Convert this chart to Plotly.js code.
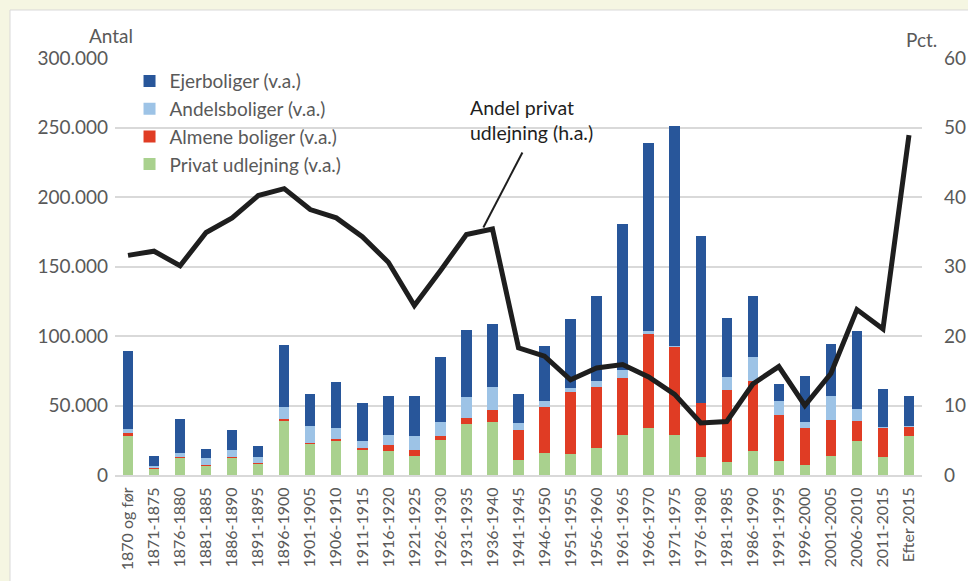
<!DOCTYPE html>
<html>
<head>
<meta charset="utf-8">
<script src="https://cdn.plot.ly/plotly-3.0.1.min.js"></script>
<style>
html,body{margin:0;padding:0;background:#f5f6e2;}
#chart{width:968px;height:581px;}
</style>
</head>
<body>
<div id="chart"></div>
<script>
// Categories (construction periods)
const categories = ["1870 og før","1871-1875","1876-1880","1881-1885","1886-1890","1891-1895","1896-1900","1901-1905","1906-1910","1911-1915","1916-1920","1921-1925","1926-1930","1931-1935","1936-1940","1941-1945","1946-1950","1951-1955","1956-1960","1961-1965","1966-1970","1971-1975","1976-1980","1981-1985","1986-1990","1991-1995","1996-2000","2001-2005","2006-2010","2011-2015","Efter 2015"];

// Number of dwellings (left axis)
const privatUdlejning = [28300,4600,12200,6500,12200,8200,38800,22300,24700,17800,17600,14000,25200,36500,38400,10800,15800,15100,19700,29100,33600,28600,12900,9400,17300,10100,7200,14000,24500,12700,27800];
const almeneBoliger   = [1700,200,500,500,1000,700,1800,700,1200,1400,4000,4000,2900,4300,8400,21600,33100,44400,43600,41000,67800,63500,38900,52000,50100,32800,26600,25600,14100,21100,6500];
const andelsboliger   = [2900,1500,2900,5000,4800,4300,8600,12000,7900,5000,7200,9800,10000,15100,16300,5300,4100,3100,4100,5700,2200,500,300,9100,17300,10300,4600,17000,8900,500,700];
const ejerboliger     = [56100,7100,25000,6500,14400,7700,44600,23100,32900,27900,28300,28800,47100,48700,45300,20900,39800,49400,61600,105100,135000,158400,120100,42700,44100,12100,32800,37600,56100,27400,21600];

// Share of private rental (right axis, pct.)
const andelPrivat = [31.6,32.2,30.1,34.9,37.0,40.2,41.2,38.2,37.0,34.3,30.6,24.4,29.4,34.6,35.4,18.3,17.1,13.7,15.4,15.9,14.1,11.6,7.5,7.7,13.1,15.6,10.0,14.6,23.8,21.0,48.9];

const leftTicks = [0,50000,100000,150000,200000,250000,300000];
const rightTicks = [0,10,20,30,40,50,60];

const FONT = "Lato, 'Open Sans', sans-serif";
const GRAY = "#595959";

const traces = [
  {type:"bar", name:"Privat udlejning (v.a.)", x:categories, y:privatUdlejning, marker:{color:"#a9d18e"}},
  {type:"bar", name:"Almene boliger (v.a.)", x:categories, y:almeneBoliger, marker:{color:"#e03c24"}},
  {type:"bar", name:"Andelsboliger (v.a.)", x:categories, y:andelsboliger, marker:{color:"#9dc3e6"}},
  {type:"bar", name:"Ejerboliger (v.a.)", x:categories, y:ejerboliger, marker:{color:"#28569a"}},
  {type:"scatter", mode:"lines", name:"Andel privat udlejning (h.a.)", x:categories, y:andelPrivat, yaxis:"y2", showlegend:false,
   line:{color:"#1e1e1e", width:5}}
];

const layout = {
  width:968, height:581,
  margin:{l:115, r:46, t:58, b:106, pad:0},
  paper_bgcolor:"#f5f6e2",
  plot_bgcolor:"rgba(0,0,0,0)",
  separators:",.",
  barmode:"stack",
  bargap:0.6,
  font:{family:FONT, size:19, color:GRAY},
  showlegend:true,
  legend:{x:0.018, y:0.99, xanchor:"left", yanchor:"top", traceorder:"reversed",
          bgcolor:"rgba(0,0,0,0)", font:{size:19, color:GRAY}, itemwidth:30, tracegroupgap:0},
  xaxis:{type:"category", range:[-0.5,30.5], tickangle:-90, tickfont:{size:16, color:GRAY}, ticklabelstandoff:4,
         showgrid:false, showline:true, linecolor:"#d9d9d9", linewidth:2, ticks:"", automargin:false},
  yaxis:{range:[0,300000], tickvals:leftTicks, tickformat:",d", showgrid:true, gridcolor:"#d9d9d9", gridwidth:2,
         zeroline:false, showline:false, ticks:"", tickfont:{size:19, color:GRAY}, ticklabelstandoff:6, automargin:false},
  yaxis2:{range:[0,60], tickvals:rightTicks, overlaying:"y", side:"right", showgrid:false, zeroline:false,
          showline:false, ticks:"", tickfont:{size:19, color:GRAY}, ticklabelstandoff:21, automargin:false},
  shapes:[
    {type:"rect", xref:"paper", yref:"paper", x0:-0.1301, x1:1.07, y0:-0.27, y1:1.1151,
     fillcolor:"#ffffff", line:{color:"#d9d9d9", width:1}, layer:"below"},
    {type:"line", xref:"x", yref:"y2", x0:15.15, y0:46.4, x1:13.65, y1:35.6,
     line:{color:"#1e1e1e", width:2}}
  ],
  annotations:[
    {text:"Antal", xref:"paper", yref:"paper", x:-0.005, y:1.0, xanchor:"center", yanchor:"bottom", yshift:9,
     showarrow:false, font:{size:19, color:GRAY}},
    {text:"Pct.", xref:"paper", yref:"paper", x:0.9988, y:1.0, xanchor:"center", yanchor:"bottom", yshift:5,
     showarrow:false, font:{size:19, color:GRAY}},
    {text:"Andel privat<br>udlejning (h.a.)", xref:"paper", yref:"paper", x:0.438, y:0.851, xanchor:"left", yanchor:"middle",
     align:"left", showarrow:false, font:{size:19.5, color:"#1e1e1e"}}
  ]
};

Plotly.newPlot("chart", traces, layout, {displayModeBar:false, staticPlot:true});
</script>
</body>
</html>
